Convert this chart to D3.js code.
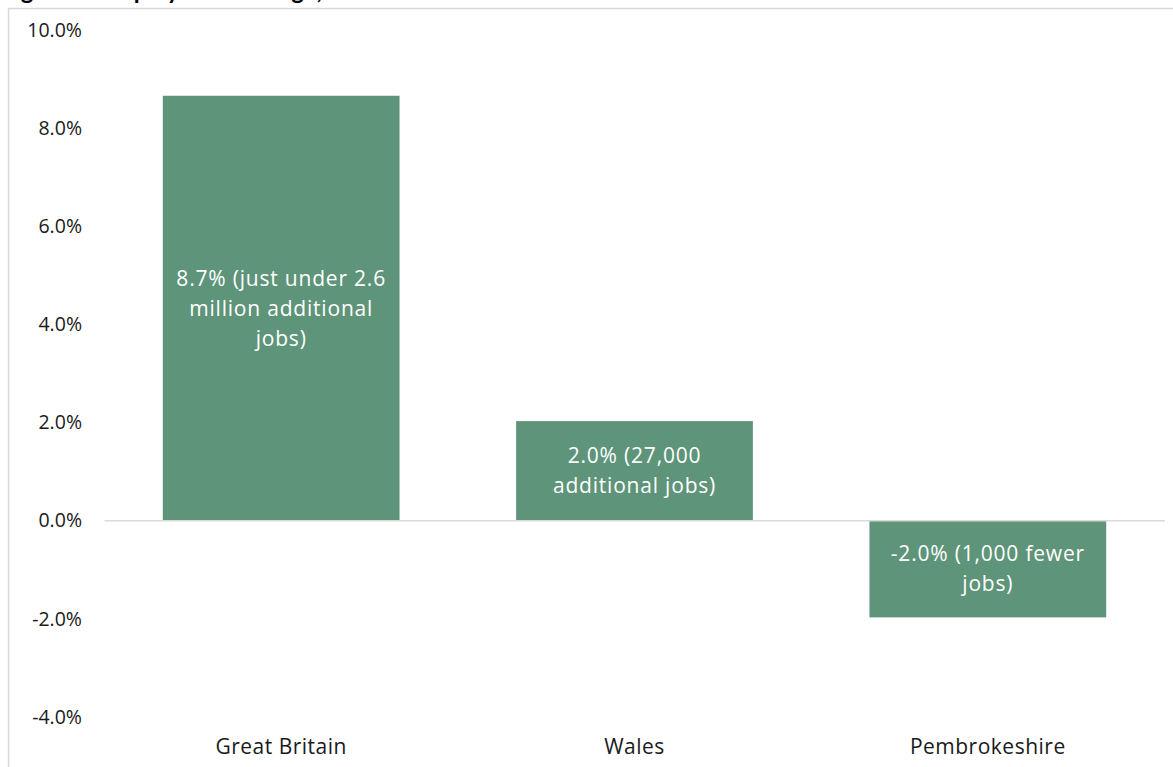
<!DOCTYPE html>
<html>
<head>
<meta charset="utf-8">
<script src="https://cdn.jsdelivr.net/npm/d3@7"></script>
<style>
  body { margin: 0; background: #fff; }
  svg { display: block; font-family: "Open Sans", sans-serif; }
</style>
</head>
<body>
<div id="chart"></div>
<script>
const categories = ["Great Britain", "Wales", "Pembrokeshire"];
const values = [8.66, 2.03, -1.97];
const barLabels = [
  ["8.7% (just under 2.6", "million additional", "jobs)"],
  ["2.0% (27,000", "additional jobs)"],
  ["-2.0% (1,000 fewer", "jobs)"]
];
const yTicks = [-4, -2, 0, 2, 4, 6, 8, 10];
const title = "Figure 1: Employment change, 2015 to 2022";

const width = 1173;
const height = 767;
const margin = { top: 30, right: 8, bottom: 50, left: 104.5 };

const svg = d3.select("#chart")
  .append("svg")
  .attr("width", width)
  .attr("height", height);

// title, cropped at the top like the source
svg.append("text")
  .attr("x", 1)
  .attr("y", -1)
  .attr("font-family", "Lato, sans-serif")
  .attr("font-weight", "bold")
  .attr("font-size", 24)
  .attr("fill", "#000")
  .text(title);

// chart area border
svg.append("rect")
  .attr("x", 8.5)
  .attr("y", 8.5)
  .attr("width", width + 10)
  .attr("height", height + 10)
  .attr("fill", "none")
  .attr("stroke", "#d9d9d9")
  .attr("stroke-width", 1.5);

const x = d3.scaleBand()
  .domain(categories)
  .range([margin.left, 1164.5])
  .paddingInner(0.33)
  .paddingOuter(0.165);

const y = d3.scaleLinear()
  .domain([-4, 10])
  .range([717, 30]);

// y axis labels only
const yAxis = svg.append("g")
  .attr("transform", `translate(82, 0)`)
  .call(d3.axisLeft(y).tickValues(yTicks).tickSize(0).tickPadding(0)
    .tickFormat(d => d.toFixed(1) + "%"));
yAxis.select(".domain").remove();
yAxis.selectAll("text")
  .attr("font-family", "'Open Sans', sans-serif")
  .attr("font-size", 19.5)
  .attr("fill", "#1a1a1a");

// bars
svg.selectAll("rect.bar")
  .data(values)
  .join("rect")
  .attr("class", "bar")
  .attr("x", (d, i) => x(categories[i]))
  .attr("width", x.bandwidth())
  .attr("y", d => y(Math.max(0, d)))
  .attr("height", d => Math.abs(y(d) - y(0)))
  .attr("fill", "#5e9479");

// zero line
svg.append("line")
  .attr("x1", margin.left)
  .attr("x2", 1165)
  .attr("y1", y(0))
  .attr("y2", y(0))
  .attr("stroke", "#d9d9d9")
  .attr("stroke-width", 1.5);

// labels inside bars
const lineH = 30;
values.forEach((v, i) => {
  const lines = barLabels[i];
  const cy = (y(v) + y(0)) / 2;
  const t = svg.append("text")
    .attr("text-anchor", "middle")
    .attr("font-size", 21)
    .attr("letter-spacing", 0.8)
    .attr("fill", "#fff");
  lines.forEach((l, j) => {
    t.append("tspan")
      .attr("x", x(categories[i]) + x.bandwidth() / 2)
      .attr("y", cy + (j - (lines.length - 1) / 2) * lineH)
      .attr("dy", "0.35em")
      .text(l);
  });
});

// category labels
svg.selectAll("text.cat")
  .data(categories)
  .join("text")
  .attr("class", "cat")
  .attr("x", d => x(d) + x.bandwidth() / 2)
  .attr("y", 747)
  .attr("dy", "0.35em")
  .attr("text-anchor", "middle")
  .attr("font-size", 21)
  .attr("letter-spacing", 0.5)
  .attr("fill", "#1a1a1a")
  .text(d => d);
</script>
</body>
</html>
